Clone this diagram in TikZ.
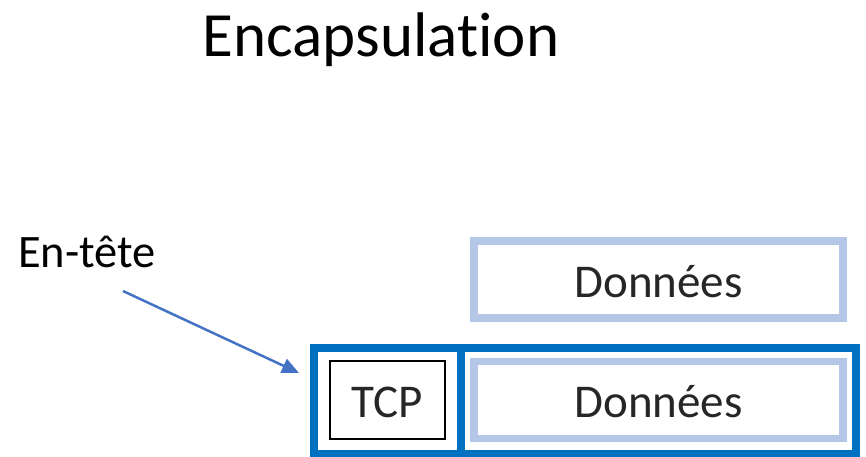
\documentclass[tikz,border=0pt]{standalone}
\usepackage{fontspec}
\setmainfont{Carlito}[Ligatures=NoCommon]
\usetikzlibrary{arrows.meta}
\definecolor{lightbox}{HTML}{B4C7E7}
\definecolor{darkbox}{HTML}{0070C0}
\definecolor{arrowblue}{HTML}{4472C4}
\definecolor{txtgray}{HTML}{262626}
\tikzset{
  databox/.style={draw=lightbox, line width=7.5pt, fill=white, minimum width=369pt, minimum height=77pt, inner sep=0pt,
    font=\fontsize{47}{50}\selectfont, text=txtgray, text height=35pt, text depth=0pt},
  framebox/.style={draw=darkbox, line width=8pt, minimum width=542pt, minimum height=106.5pt, inner sep=0pt},
  tcpbox/.style={draw=black, line width=1.5pt, minimum width=115pt, minimum height=78pt, inner sep=0pt,
    font=\fontsize{47}{50}\selectfont, text=txtgray, text height=35pt, text depth=0pt},
  pointer/.style={draw=arrowblue, line width=2.5pt, -{Triangle[length=17pt,width=15pt]}},
  label/.style={inner sep=0pt, text=black}
}
\begin{document}
\begin{tikzpicture}[x=1pt,y=-1pt]
  \useasboundingbox (0,0) rectangle (866,456);
  \node[label, anchor=base, font=\fontsize{63}{70}\selectfont] (title) at (381,56) {Encapsulation};
  \node[label, anchor=base west, font=\fontsize{46.5}{50}\selectfont] (entete) at (18,267) {En-tête};
  \node[databox] (data1) at (658.5,279.5) {Données};
  \node[framebox] (frame) at (585,400.75) {};
  \node[tcpbox] (tcp) at (387.5,400) {TCP};
  \node[databox] (data2) at (658.5,400) {Données};
  \coordinate (divtop) at (461,347.5);
  \draw[draw=darkbox, line width=8pt] (divtop) -- (divtop |- frame.south);
  \coordinate (arrowstart) at (123,291);
  \coordinate (arrowend) at (299,373);
  \draw[pointer] (arrowstart) -- (arrowend);
\end{tikzpicture}
\end{document}
